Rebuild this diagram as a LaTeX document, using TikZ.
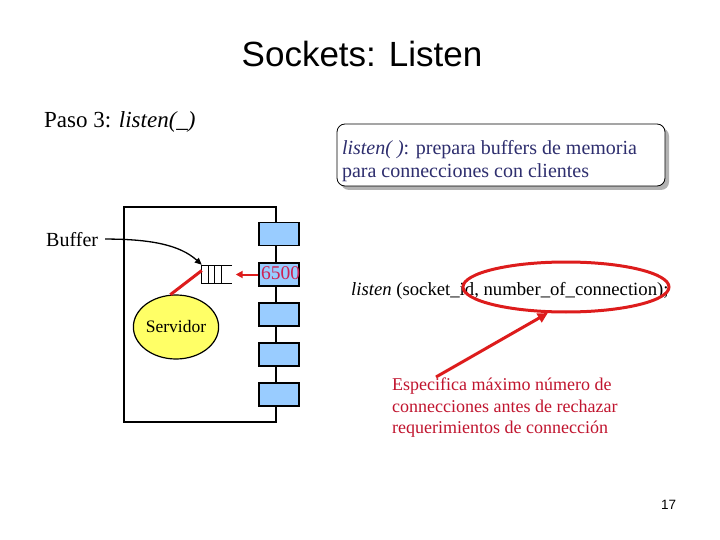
\documentclass[tikz,border=0pt]{standalone}
\usepackage{fontspec}
\setmainfont{Liberation Serif}
\setsansfont{Liberation Sans}
\definecolor{portblue}{HTML}{99CCFF}
\definecolor{servyellow}{HTML}{FFFF66}
\definecolor{notenavy}{HTML}{2E2E6E}
\definecolor{arrowred}{HTML}{DD1C1C}
\definecolor{textred}{HTML}{C0142E}
\definecolor{portred}{HTML}{CC2255}
\usetikzlibrary{shapes.geometric,arrows.meta,shadows}

\begin{document}
\begin{tikzpicture}[x=1pt,y=-1pt,
    txt/.style={inner sep=0pt},
    port/.style={draw,line width=1.2pt,fill=portblue,minimum width=40pt,minimum height=23pt,inner sep=0pt},
    redline/.style={arrowred,line width=3pt}]
  \useasboundingbox (0,0) rectangle (720,540);

  \node[txt,anchor=base] (title) at (362,67) {\sffamily\fontsize{35}{40}\selectfont Sockets: Listen};
  \node[txt,anchor=base west] (step) at (44,128) {\fontsize{23}{26}\selectfont Paso 3: \textit{listen(\_)}};

  % nota
  \node[draw,fill=white,line width=0.8pt,rounded corners=8pt,minimum width=328pt,minimum height=62pt,
        text width=318pt,align=flush left,inner sep=0pt,text=notenavy,font=\fontsize{20}{22.5}\selectfont,
        drop shadow={shadow xshift=4pt,shadow yshift=-4pt,fill=gray!60,opacity=1}] (note) at (501,155)
    {\rule{0pt}{26pt}\textit{listen( )}: prepara buffers de memoria\\para connecciones con clientes};

  % host con puertos
  \node[draw,line width=1.6pt,minimum width=152pt,minimum height=215pt,inner sep=0pt] (host) at (200,314.5) {};
  \foreach \i/\y in {1/234,2/274.5,3/314.5,4/354.5,5/394.5}
    \node[port] (port\i) at (279,\y) {};
  \node[txt,anchor=base,text=portred] (portnum) at (280.5,279) {\fontsize{19.5}{20}\selectfont 6500};

  % cola
  \node[minimum width=30pt,minimum height=17pt,inner sep=0pt] (queue) at (217,274.5) {};
  \draw[line width=0.9pt] (queue.north east) -- (queue.north west) -- (queue.south west) -- (queue.south east);
  \foreach \dx in {6.5,13,20}
    \draw[line width=0.9pt] ([xshift=\dx pt]queue.north west) -- ([xshift=\dx pt]queue.south west);

  \node[draw,ellipse,fill=servyellow,line width=1.2pt,minimum width=78pt,minimum height=64pt,inner sep=0pt] (serv) at (176,327)
    {\fontsize{17.5}{20}\selectfont Servidor};
  \node[txt,anchor=base west] (buffer) at (46,247) {\fontsize{20}{22}\selectfont Buffer};

  \draw[line width=1.3pt,-{Triangle[length=7pt,width=6pt]}] ([xshift=7pt,yshift=1pt]buffer.east)
    .. controls +(45,0) and +(-22,-20) .. ([yshift=1pt]queue.north west);
  \draw[arrowred,line width=2pt,-{Triangle[length=7pt,width=7pt]}] (port2.west) -- ([xshift=3.5pt]queue.east);
  \draw[redline] (serv.100) -- ([yshift=4pt]queue.west);

  % llamada
  \node[txt,anchor=base west] (call) at (351,295)
    {\fontsize{18.7}{20}\selectfont\textit{listen} (socket\_id, number\_of\_connection);};
  \node[draw=arrowred,ellipse,line width=3pt,minimum width=206pt,minimum height=50pt] (argmark) at (566,287) {};
  \node[txt,anchor=north west,align=left,text=textred,font=\fontsize{18}{21.5}\selectfont] (spec) at (392,378)
    {Especifica máximo número de\\connecciones antes de rechazar\\requerimientos de connección};
  \coordinate (specfoot) at (436,377);
  \draw[redline,-{Triangle[length=10pt,width=10pt]}] (specfoot) -- (argmark.235);

  \node[txt,anchor=base] (pagenum) at (668.5,509) {\sffamily\fontsize{13.5}{15}\selectfont 17};
\end{tikzpicture}
\end{document}
